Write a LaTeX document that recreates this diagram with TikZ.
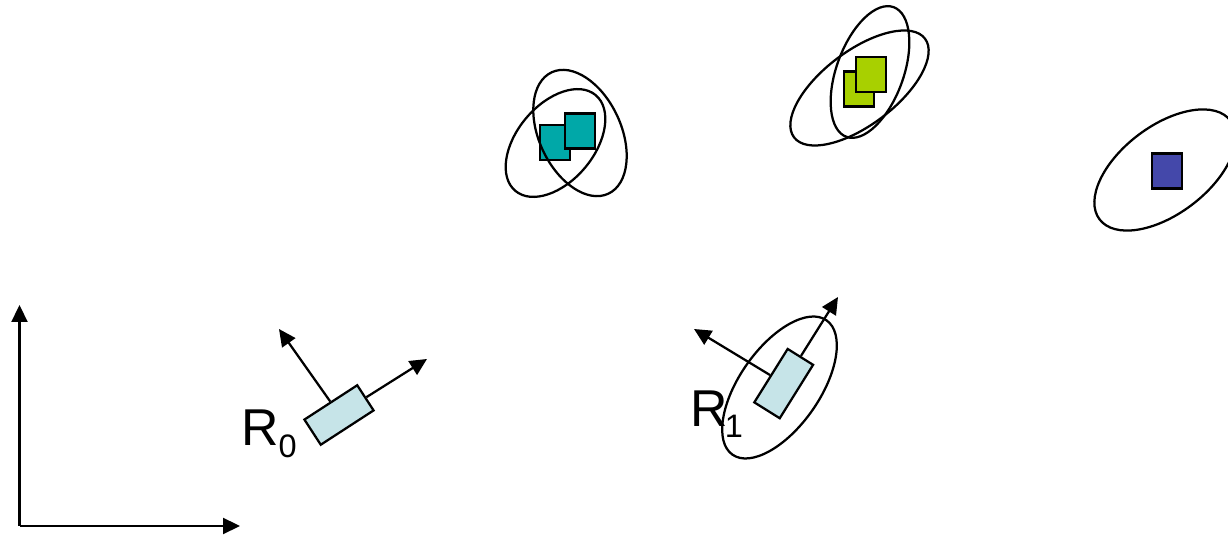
\documentclass[tikz,border=0pt]{standalone}
\usepackage{fontspec}
\newfontfamily\lblfont{Liberation Sans}
\usepackage{tikz}
\usetikzlibrary{positioning}
\usetikzlibrary{arrows.meta,shapes.geometric}
\definecolor{lmteal}{RGB}{0,168,168}
\definecolor{lmgreen}{RGB}{168,208,0}
\definecolor{lmblue}{RGB}{68,72,170}
\definecolor{robfill}{RGB}{198,228,232}
\tikzstyle{lm}=[rectangle,draw=black,line width=0.045cm,inner sep=0pt,
    minimum width=0.6cm,minimum height=0.7cm]
\tikzstyle{rb}=[rectangle,draw=black,fill=robfill,line width=0.045cm,inner sep=0pt,
    minimum width=1.26cm,minimum height=0.6cm]
\tikzstyle{el}=[ellipse,draw=black,line width=0.045cm,inner sep=0pt]
\tikzstyle{lbl}=[inner sep=0pt,anchor=base west,font=\lblfont\fontsize{29.5}{30}\selectfont]

\begin{document}
\begin{tikzpicture}[x=0.02cm,y=-0.02cm,->,>={Triangle[length=0.34cm,width=0.32cm]},
                    line width=0.045cm]
  \useasboundingbox (0,0) rectangle (1228,536);

  \coordinate (orig) at (19.5,526);
  \coordinate (xend) at (240,526);
  \coordinate (yend) at (19.5,305);
  \draw (orig) -- (xend);
  \draw (orig) -- (yend);

  \node[lm,fill=lmteal] (teal1) at (555,142.5) {};
  \node[lm,fill=lmteal] (teal2) at (580.3,131) {};
  \node[el,minimum width=2.68cm,minimum height=1.64cm,rotate=115] (tealcov1) at (580,133) {};
  \node[el,minimum width=2.5cm,minimum height=1.54cm,rotate=50] (tealcov2) at (555.5,143) {};

  \node[lm,fill=lmgreen] (green1) at (859,89) {};
  \node[lm,fill=lmgreen] (green2) at (871,74.7) {};
  \node[el,minimum width=2.76cm,minimum height=1.34cm,rotate=70] (greencov1) at (870,72) {};
  \node[el,minimum width=3.28cm,minimum height=1.48cm,rotate=37] (greencov2) at (859.5,88) {};

  \node[lm,fill=lmblue] (blue) at (1167,171) {};
  \node[el,minimum width=3.28cm,minimum height=1.76cm,rotate=37] (bluecov) at (1165,170) {};

  \node[rb,rotate=33] (rob0) at (339,415) {};
  \coordinate (rob0f) at (427,359);
  \coordinate (rob0s) at (279,329);
  \draw (rob0.east) -- (rob0f);
  \draw (rob0.north) -- (rob0s);
  \node[lbl] (lab0) at (240,446) {R\raisebox{-0.24cm}{\fontsize{18.5}{18}\selectfont 0}};

  \node[el,minimum width=3.28cm,minimum height=1.6cm,rotate=55] (robcov1) at (779.5,387.5) {};
  \node[rb,rotate=58] (rob1) at (783.7,383.6) {};
  \coordinate (rob1f) at (838,297);
  \coordinate (rob1s) at (694,329);
  \draw (rob1.east) -- (rob1f);
  \draw (rob1.north) -- (rob1s);
  \node[lbl] (lab1) at (689,427) {R\kern-1.5pt\raisebox{-0.22cm}{\fontsize{18.5}{18}\selectfont 1}};
\end{tikzpicture}
\end{document}
